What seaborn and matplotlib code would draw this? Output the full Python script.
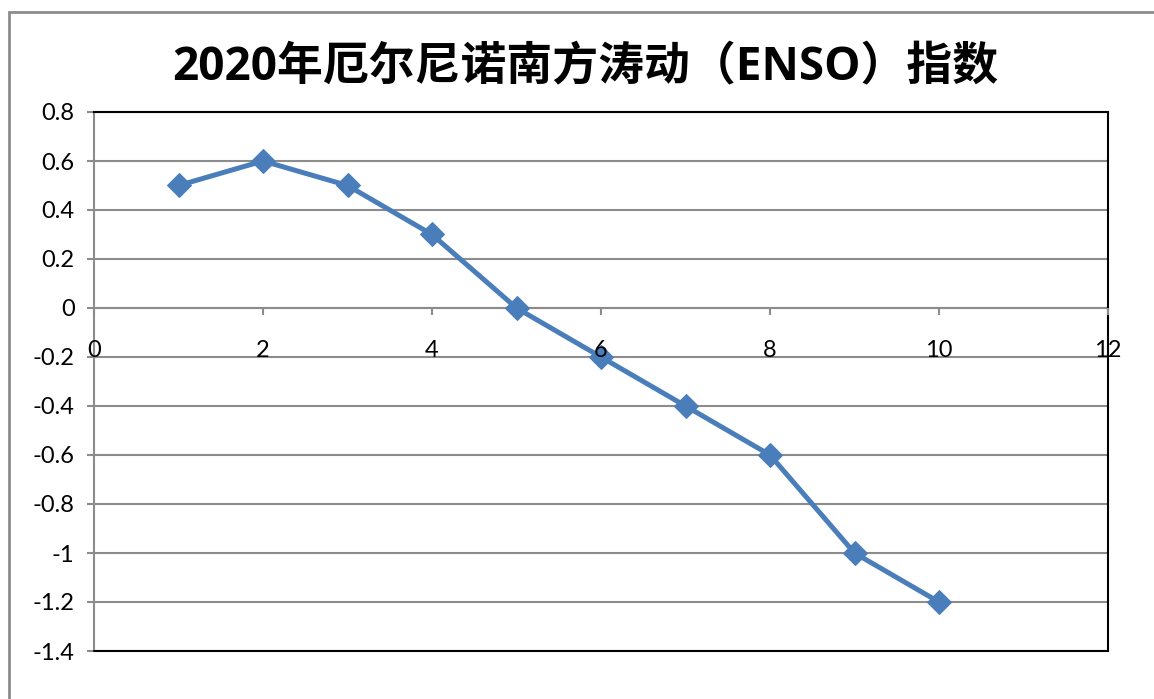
import numpy as np
import pandas as pd
import matplotlib
matplotlib.use("Agg")
import matplotlib.pyplot as plt
import seaborn as sns
from matplotlib.patches import Rectangle

# ENSO index by month
months = [1, 2, 3, 4, 5, 6, 7, 8, 9, 10]
enso = [0.5, 0.6, 0.5, 0.3, 0.0, -0.2, -0.4, -0.6, -1.0, -1.2]
y_ticks = [-1.4, -1.2, -1.0, -0.8, -0.6, -0.4, -0.2, 0.0, 0.2, 0.4, 0.6, 0.8]
y_labels = ["-1.4", "-1.2", "-1", "-0.8", "-0.6", "-0.4", "-0.2", "0", "0.2", "0.4", "0.6", "0.8"]
x_ticks = [0, 2, 4, 6, 8, 10, 12]
title = "2020年厄尔尼诺南方涛动（ENSO）指数"

df = pd.DataFrame({"month": months, "enso": enso})

sns.set_style("white")
plt.rcParams["font.family"] = ["Lato", "Noto Sans CJK SC", "DejaVu Sans"]

fig = plt.figure(figsize=(11.54, 6.99), dpi=100)
ax = fig.add_axes([94 / 1154, 1 - 651 / 699, (1108 - 94) / 1154, (651 - 112) / 699])

# outer chart border (runs off the right and bottom)
fig.patches.append(Rectangle((9 / 1154, -0.05), 1.2, 1 - 12 / 699 + 0.05,
                             transform=fig.transFigure, fill=False,
                             edgecolor="#8c8c8c", lw=2))

sns.lineplot(data=df, x="month", y="enso", ax=ax, color="#4a7ebb", lw=3.6,
             marker="D", markersize=12, markeredgecolor="#4a7ebb")

ax.set_xlim(0, 12)
ax.set_ylim(-1.4, 0.8)
ax.set_yticks(y_ticks)
ax.set_yticklabels(y_labels)
ax.set_xticks(x_ticks)
ax.set_xlabel("")
ax.set_ylabel("")

ax.yaxis.grid(True, color="#8c8c8c", lw=1.5)
ax.set_axisbelow(True)
# x tick labels sit on top of the line, as in the original
ax.xaxis.set_zorder(3)

# x axis crosses at zero
ax.spines["bottom"].set_position(("data", 0))
ax.spines["bottom"].set_color("#8c8c8c")
ax.spines["bottom"].set_linewidth(1.5)
ax.spines["bottom"].set_zorder(0.6)
ax.spines["left"].set_color("#8c8c8c")
ax.spines["left"].set_linewidth(1.5)
ax.spines["left"].set_zorder(0.6)
ax.spines["top"].set_color("black")
ax.spines["top"].set_linewidth(1.5)
ax.spines["right"].set_color("black")
ax.spines["right"].set_linewidth(1.5)
ax.plot([0, 1], [0, 0], transform=ax.transAxes, color="black", lw=1.5, clip_on=False)

ax.tick_params(axis="x", direction="out", length=5, width=1.5, color="#8c8c8c",
               labelsize=17, labelcolor="black", pad=18)
ax.tick_params(axis="y", direction="out", length=5, width=1.5, color="#8c8c8c",
               labelsize=17, labelcolor="black", pad=9)
ax.tick_params(left=True, bottom=True)

fig.text(585 / 1154, 1 - 68 / 699, title, ha="center", va="center",
         fontsize=33, fontweight="bold", color="black",
         family=["Open Sans", "Noto Sans CJK SC", "DejaVu Sans"])

fig.savefig("out.png", dpi=100)
